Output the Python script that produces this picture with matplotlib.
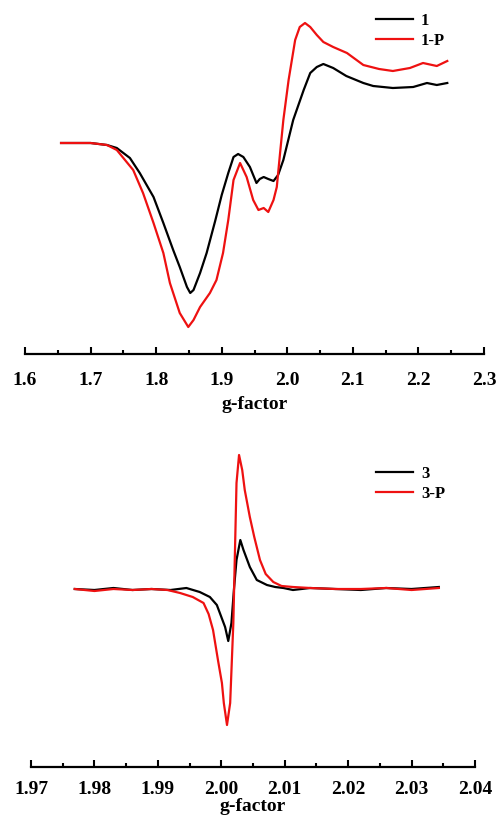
import matplotlib.pyplot as plt

plt.rcParams['font.family'] = ['Liberation Serif', 'DejaVu Serif']
plt.rcParams['font.weight'] = 'bold'

# top panel: compound 1 and 1-P
g_1 = [1.655, 1.70, 1.725, 1.74, 1.760, 1.775, 1.796, 1.811, 1.826, 1.836, 1.847, 1.852,
       1.857, 1.867, 1.877, 1.89, 1.90, 1.910, 1.918, 1.925, 1.933, 1.943, 1.953, 1.958,
       1.964, 1.971, 1.979, 1.986, 1.994, 2.009, 2.025, 2.035, 2.045, 2.055, 2.070, 2.090,
       2.116, 2.131, 2.161, 2.192, 2.213, 2.228, 2.244]
int_1 = [0, 0, -2, -5, -15, -30, -54, -80, -107, -124, -144, -150,
         -147, -130, -110, -78, -52, -30, -14, -11, -14, -24, -40, -36,
         -34, -36, -38, -32, -17, 23, 53, 70, 76, 79, 75, 67,
         60, 57, 55, 56, 60, 58, 60]

g_1p = [1.655, 1.70, 1.725, 1.740, 1.765, 1.780, 1.796, 1.811, 1.821, 1.836, 1.849, 1.857,
        1.867, 1.882, 1.892, 1.902, 1.910, 1.918, 1.928, 1.938, 1.948, 1.956, 1.964, 1.971,
        1.979, 1.984, 1.989, 1.994, 2.002, 2.012, 2.019, 2.027, 2.035, 2.045, 2.055, 2.070,
        2.091, 2.116, 2.140, 2.161, 2.187, 2.207, 2.228, 2.244]
int_1p = [0, 0, -2, -7, -27, -50, -80, -110, -140, -170, -184, -177,
          -164, -150, -137, -110, -77, -37, -20, -34, -57, -67, -65, -69,
          -57, -44, -10, 23, 63, 103, 116, 120, 116, 108, 101, 96,
          90, 78, 74, 72, 75, 80, 77, 82]

# bottom panel: compound 3 and 3-P
g_3 = [1.9769, 1.980, 1.983, 1.986, 1.989, 1.992, 1.9945, 1.9966, 1.9982, 1.9993, 2.0006,
       2.0011, 2.0016, 2.0020, 2.0024, 2.0030, 2.0035, 2.0045, 2.0056, 2.0072,
       2.0085, 2.0098, 2.0113, 2.014, 2.018, 2.022, 2.026, 2.030, 2.0343]
int_3 = [0, -1, 1, -1, 0, -1, 1, -3, -8, -16, -38,
         -52, -34, 0, 29, 49, 39, 22, 9, 4,
         2, 1, -1, 1, 0, -1, 1, 0, 2]

g_3p = [1.9769, 1.980, 1.983, 1.986, 1.989, 1.9915, 1.9935, 1.9955, 1.9972, 1.9980, 1.9987,
        1.9995, 2.0001, 2.0004, 2.0009, 2.0014, 2.0019, 2.0024, 2.0028, 2.0033, 2.0037,
        2.0045, 2.0052, 2.0061, 2.0070, 2.0082, 2.0095, 2.0113, 2.014, 2.018, 2.022,
        2.026, 2.030, 2.0343]
int_3p = [0, -2, 0, -1, 0, -1, -4, -8, -14, -25, -41,
          -72, -94, -114, -136, -114, -34, 106, 134, 119, 99,
          72, 52, 29, 15, 7, 3, 2, 1, 0, 0,
          1, -1, 1]

W, H = 499, 832
fig = plt.figure(figsize=(W / 100, H / 100), dpi=100)

def panel(rect, ylim, xlim, xticks, fmt, pad, labelpad):
    ax = fig.add_axes([rect[0] / W, 1 - rect[3] / H, (rect[2] - rect[0]) / W, (rect[3] - rect[1]) / H])
    for s in ['left', 'right', 'top']:
        ax.spines[s].set_visible(False)
    ax.spines['bottom'].set_linewidth(1.6)
    ax.set_yticks([])
    ax.set_xlim(*xlim)
    ax.set_ylim(*ylim)
    ax.set_xticks(xticks)
    ax.set_xticklabels([fmt % t for t in xticks])
    step = xticks[1] - xticks[0]
    ax.set_xticks([t + step / 2 for t in xticks[:-1]], minor=True)
    ax.tick_params(axis='x', which='major', direction='in', length=5, width=1.5,
                   labelsize=14, pad=pad)
    ax.tick_params(axis='x', which='minor', direction='in', length=3, width=1.5)
    ax.set_xlabel('g-factor', fontsize=14, fontweight='bold', labelpad=labelpad)
    return ax

ax1 = panel((25, 18, 484, 354), (-211, 125), (1.6, 2.3),
            [1.6, 1.7, 1.8, 1.9, 2.0, 2.1, 2.2, 2.3], '%.1f', 13, 5)
ax1.plot(g_1, int_1, color='black', lw=1.6, label='1')
ax1.plot(g_1p, int_1p, color='#ee1111', lw=1.6, label='1-P')
ax1.legend(loc='upper left', bbox_to_anchor=(376 / W, 1 - 13 / H), bbox_transform=fig.transFigure,
           frameon=False, fontsize=12, handlelength=2.2, handletextpad=0.5,
           borderpad=0, borderaxespad=0, labelspacing=0.25)

ax2 = panel((31, 450, 475, 767), (-178, 139), (1.97, 2.04),
            [1.97, 1.98, 1.99, 2.00, 2.01, 2.02, 2.03, 2.04], '%.2f', 10, 0)
ax2.plot(g_3, int_3, color='black', lw=1.6, label='3')
ax2.plot(g_3p, int_3p, color='#ee1111', lw=1.6, label='3-P')
ax2.legend(loc='upper left', bbox_to_anchor=(376 / W, 1 - 466 / H), bbox_transform=fig.transFigure,
           frameon=False, fontsize=12, handlelength=2.2, handletextpad=0.5,
           borderpad=0, borderaxespad=0, labelspacing=0.25)

fig.savefig('out.png', dpi=100)
